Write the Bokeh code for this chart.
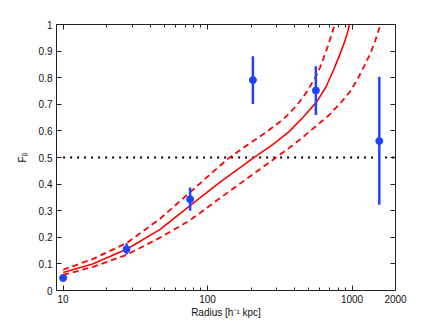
from bokeh.plotting import figure
from bokeh.models import Range1d, FixedTicker, LinearAxis, LogAxis, BasicTickFormatter
from bokeh.embed import file_html
from bokeh.resources import INLINE

# ---- data ----
pt_r = [10, 27.5, 75.7, 206, 562, 1545]
pt_f = [0.047, 0.155, 0.343, 0.791, 0.752, 0.562]
pt_lo = [0.040, 0.135, 0.300, 0.701, 0.660, 0.322]
pt_hi = [0.054, 0.178, 0.387, 0.881, 0.843, 0.804]

fit_r = [10, 16, 27.5, 47, 76, 119, 200, 290, 372, 460, 571, 660, 745, 820, 875, 920, 962]
fit_f = [0.068, 0.100, 0.155, 0.230, 0.320, 0.403, 0.492, 0.553, 0.600, 0.652, 0.710, 0.765,
         0.829, 0.885, 0.925, 0.960, 1.0]

up_r = [10, 16, 27.5, 47, 76, 100, 139, 190, 244, 300, 340, 372, 420, 480, 557, 600, 635, 680, 708, 735, 757]
up_f = [0.078, 0.118, 0.178, 0.270, 0.370, 0.428, 0.496, 0.548, 0.588, 0.624, 0.648, 0.668,
        0.700, 0.742, 0.800, 0.838, 0.873, 0.918, 0.948, 0.975, 1.0]

lo_r = [10, 16, 27.5, 47, 76, 119, 229, 290, 369, 450, 527, 680, 830, 960, 1084, 1200, 1340, 1450, 1553]
lo_f = [0.059, 0.088, 0.134, 0.199, 0.265, 0.343, 0.455, 0.495, 0.537, 0.573, 0.605, 0.655,
        0.704, 0.745, 0.791, 0.838, 0.891, 0.940, 0.99]

thresh_r = [10, 2000]
thresh_f = [0.5, 0.5]

x_ticks = [10, 100, 1000, 2000]
x_minor = [20, 30, 40, 50, 60, 70, 80, 90, 200, 300, 400, 500, 600, 700, 800, 900]
y_ticks = [0, 0.1, 0.2, 0.3, 0.4, 0.5, 0.6, 0.7, 0.8, 0.9, 1]
y_labels = ["0", "0.1", "0.2", "0.3", "0.4", "0.5", "0.6", "0.7", "0.8", "0.9", "1"]

FONT = "Liberation Sans"
AX = "#222222"
RED = "#ff0000"
BLUE = "#1f45fc"

p = figure(width=428, height=320, x_axis_type="log",
           x_range=Range1d(9, 2000), y_range=Range1d(0, 1),
           output_backend="svg", toolbar_location=None,
           min_border_left=56, min_border_right=33, min_border_top=24, min_border_bottom=29)
p.grid.visible = False
p.outline_line_color = None
p.background_fill_color = "white"

xt = FixedTicker(ticks=x_ticks, minor_ticks=x_minor)
yt = FixedTicker(ticks=y_ticks)
overrides = {v: s for v, s in zip(y_ticks, y_labels)}

def style(ax):
    ax.axis_line_color = AX
    ax.major_tick_line_color = AX
    ax.minor_tick_line_color = AX
    ax.major_tick_in = 5
    ax.major_tick_out = 0
    ax.minor_tick_in = 3
    ax.minor_tick_out = 0
    ax.major_label_text_font = FONT
    ax.major_label_text_font_size = "10px"
    ax.major_label_text_color = "#111111"
    ax.axis_label_text_font = FONT
    ax.axis_label_text_font_size = "10px"
    ax.axis_label_text_font_style = "normal"
    ax.axis_label_text_color = "#111111"

xa = p.xaxis[0]
xa.ticker = xt
xa.formatter = BasicTickFormatter(use_scientific=False)
xa.axis_label = "Radius [h⁻¹ kpc]"
xa.major_label_standoff = 4
xa.axis_label_standoff = 1
style(xa)

ya = p.yaxis[0]
ya.ticker = yt
ya.major_label_overrides = overrides
ya.axis_label = "Fᵦ"
ya.major_label_standoff = 4
ya.axis_label_standoff = 8
style(ya)

top = LogAxis(ticker=xt)
style(top)
top.major_label_overrides = {v: "" for v in x_ticks}
p.add_layout(top, "above")
right = LinearAxis(ticker=yt)
style(right)
right.major_label_overrides = {v: "" for v in y_ticks}
p.add_layout(right, "right")

# threshold
p.line(thresh_r, thresh_f, line_color="black", line_width=2, line_dash="2 5")

# fit curves
p.line(fit_r, fit_f, line_color=RED, line_width=1.6)
p.line(up_r, up_f, line_color=RED, line_width=1.8, line_dash="6 4")
p.line(lo_r, lo_f, line_color=RED, line_width=1.8, line_dash="6 4")

# data points with error bars
p.segment(x0=pt_r, y0=pt_lo, x1=pt_r, y1=pt_hi, line_color=BLUE, line_width=2.5)
p.scatter(pt_r, pt_f, size=7, fill_color=BLUE, line_color=BLUE)

open("out.html", "w").write(file_html(p, INLINE))
